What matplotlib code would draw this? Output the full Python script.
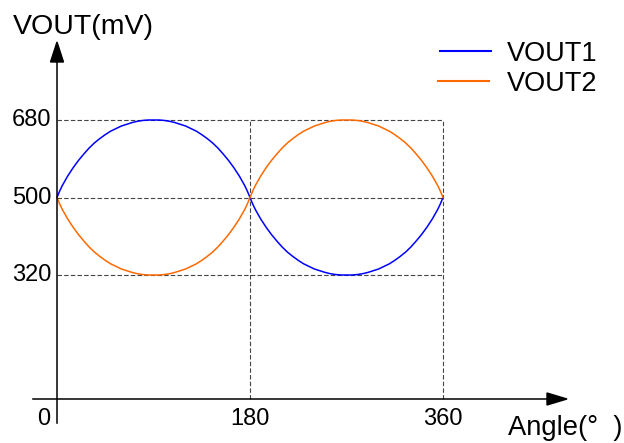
import matplotlib
matplotlib.use("Agg")
import matplotlib.pyplot as plt
from matplotlib.patches import Polygon

plt.rcParams['font.family'] = ['Liberation Sans', 'DejaVu Sans']

# ---- data ----
angle = [0, 2.5, 5, 10, 15, 20, 25, 30, 35, 40, 45, 50, 55, 60, 65, 70, 75, 80, 85, 90,
         95, 100, 105, 110, 115, 120, 125, 130, 135, 140, 145, 150, 155, 160, 165, 170, 175, 177.5, 180,
         182.5, 185, 190, 195, 200, 205, 210, 215, 220, 225, 230, 235, 240, 245, 250, 255, 260, 265, 270,
         275, 280, 285, 290, 295, 300, 305, 310, 315, 320, 325, 330, 335, 340, 345, 350, 355, 357.5, 360]
vout1 = [500, 515, 528, 550, 569, 586, 601, 615, 627, 637, 646, 654, 660, 666, 670, 674, 677, 679, 680, 680,
         680, 679, 677, 674, 670, 666, 660, 654, 646, 637, 627, 615, 601, 586, 569, 550, 528, 515, 500,
         485, 472, 450, 431, 414, 399, 385, 373, 363, 354, 346, 340, 334, 330, 326, 323, 321, 320, 320,
         320, 321, 323, 326, 330, 334, 340, 346, 354, 363, 373, 385, 399, 414, 431, 450, 472, 485, 500]
vout2 = [500, 485, 472, 450, 431, 414, 399, 385, 373, 363, 354, 346, 340, 334, 330, 326, 323, 321, 320, 320,
         320, 321, 323, 326, 330, 334, 340, 346, 354, 363, 373, 385, 399, 414, 431, 450, 472, 485, 500,
         515, 528, 550, 569, 586, 601, 615, 627, 637, 646, 654, 660, 666, 670, 674, 677, 679, 680, 680,
         680, 679, 677, 674, 670, 666, 660, 654, 646, 637, 627, 615, 601, 586, 569, 550, 528, 515, 500]
x_ticks = [0, 180, 360]
y_ticks = [320, 500, 680]
series_names = ['VOUT1', 'VOUT2']
colors = ['#0000ff', '#ff6a00']

W, H = 624, 443
fig = plt.figure(figsize=(W / 100, H / 100), dpi=100)
ax = fig.add_axes([0, 0, 1, 1])

# pixel mapping helpers (layout only)
X0, XS = 57.0, 193.0 / 180.0
Y500, YS = 197.5, 77.5 / 180.0
def dx(px):
    return (px - X0) / XS
def dy(py):
    return 500 + (Y500 - py) / YS

ax.set_xlim(dx(0), dx(W))
ax.set_ylim(dy(H), dy(0))
ax.axis('off')

# dashed guide lines
gkw = dict(color='#444444', lw=0.8, linestyle=(0, (4, 2)), zorder=1)
for v in y_ticks:
    ax.plot([0, 360], [v, v], **gkw)
base = dy(399)
for xv in x_ticks[1:]:
    ax.plot([xv, xv], [base, max(y_ticks)], **gkw)

# curves
ax.plot(angle, vout1, color=colors[0], lw=1.1, zorder=3)
ax.plot(angle, vout2, color=colors[1], lw=1.1, zorder=3)

# axes with arrows
ax.plot([dx(33), dx(550)], [base, base], color='black', lw=1.1, zorder=4)
ax.add_patch(Polygon([(dx(567), base), (dx(547), dy(393)), (dx(547), dy(405))],
                     closed=True, color='black', zorder=4))
ax.plot([0, 0], [dy(423), dy(58)], color='black', lw=1.1, zorder=4)
ax.add_patch(Polygon([(0, dy(42)), (dx(50.5), dy(62)), (dx(63.5), dy(62))],
                     closed=True, color='black', zorder=4))

# tick labels
for v in y_ticks:
    ax.text(dx(51), v, str(v), ha='right', va='center', fontsize=17)
ax.text(dx(44), dy(419), '0', ha='center', va='center', fontsize=17)
for xv in x_ticks[1:]:
    ax.text(xv, dy(419), str(xv), ha='center', va='center', fontsize=17)

# axis titles
ax.text(dx(13), dy(34), 'VOUT(mV)', ha='left', va='baseline', fontsize=20.5)
ax.text(dx(508), dy(435), 'Angle(°  )', ha='left', va='baseline', fontsize=19.7)

# legend
ax.plot([dx(440), dx(491)], [dy(51), dy(51)], color=colors[0], lw=1.5)
ax.plot([dx(438), dx(489)], [dy(80.5), dy(80.5)], color=colors[1], lw=1.5)
ax.text(dx(507), dy(61), series_names[0], ha='left', va='baseline', fontsize=19.5)
ax.text(dx(507), dy(91), series_names[1], ha='left', va='baseline', fontsize=19.5)

fig.savefig('out.png', dpi=100)
